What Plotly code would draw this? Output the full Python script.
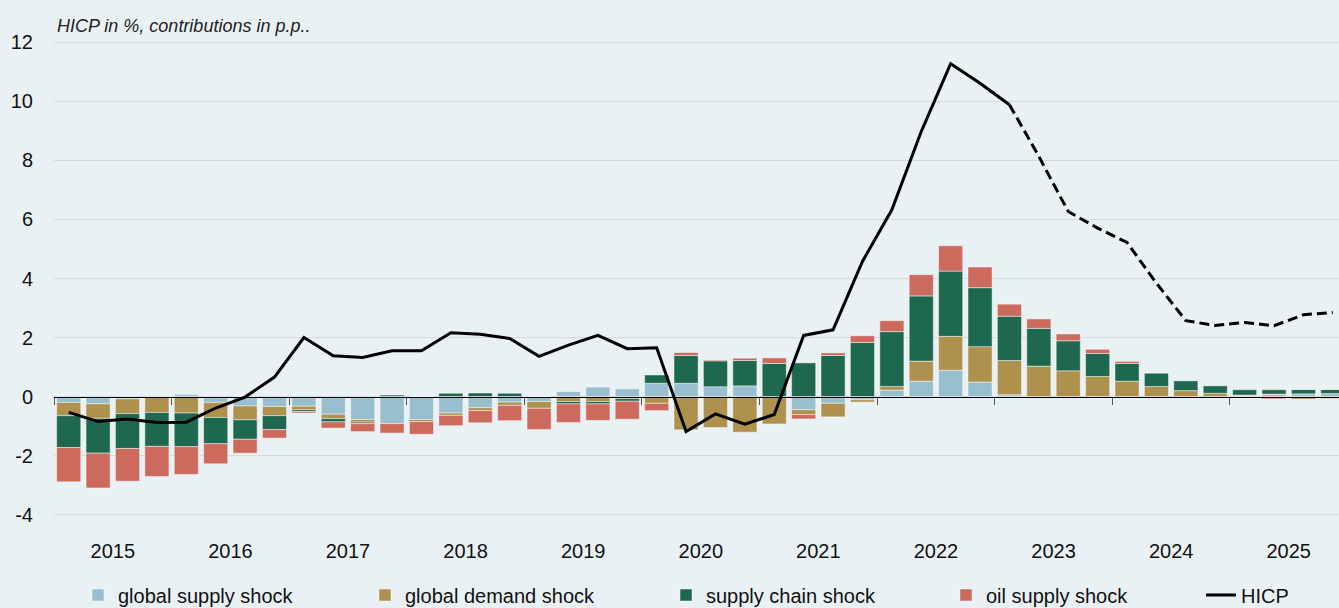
import plotly.graph_objects as go

years = list(range(2015, 2026))
quarters = [f"{y}Q{q}" for y in years for q in range(1, 5)]

global_supply = [-0.20, -0.25, -0.08, -0.01, 0.07, -0.20, -0.32, -0.34,
                 -0.33, -0.60, -0.78, -0.92, -0.78, -0.56, -0.38, -0.19,
                 -0.17, 0.17, 0.32, 0.26, 0.45, 0.45, 0.33, 0.36,
                 0.00, -0.45, -0.23, -0.11, 0.22, 0.52, 0.89, 0.49,
                 0.06, -0.01, -0.03, -0.05, -0.05, -0.03, 0.00, 0.00,
                 0.03, 0.08, 0.09, 0.10]
global_demand = [-0.45, -0.49, -0.50, -0.53, -0.56, -0.51, -0.47, -0.31,
                 -0.12, -0.15, -0.09, 0.00, -0.07, -0.08, -0.10, -0.11,
                 -0.23, -0.17, -0.17, -0.07, -0.23, -1.13, -1.05, -1.21,
                 -0.93, -0.16, -0.46, -0.08, 0.12, 0.68, 1.15, 1.20,
                 1.16, 1.03, 0.87, 0.68, 0.52, 0.34, 0.20, 0.11,
                 0.02, 0.00, -0.09, -0.07]
supply_chain = [-1.08, -1.18, -1.18, -1.15, -1.14, -0.89, -0.66, -0.47,
                -0.06, -0.11, -0.05, 0.05, 0.00, 0.11, 0.12, 0.11,
                0.00, -0.08, -0.08, -0.09, 0.28, 0.94, 0.88, 0.86,
                1.12, 1.14, 1.39, 1.83, 1.86, 2.21, 2.21, 2.00,
                1.50, 1.28, 1.02, 0.78, 0.60, 0.46, 0.33, 0.25,
                0.18, 0.15, 0.15, 0.14]
oil_supply = [-1.16, -1.18, -1.11, -1.02, -0.94, -0.68, -0.47, -0.29,
              -0.05, -0.21, -0.27, -0.32, -0.43, -0.35, -0.41, -0.52,
              -0.72, -0.63, -0.56, -0.61, -0.25, 0.10, 0.03, 0.08,
              0.19, -0.15, 0.09, 0.23, 0.37, 0.72, 0.86, 0.70,
              0.41, 0.32, 0.23, 0.14, 0.07, 0.00, -0.03, -0.03,
              -0.02, -0.08, 0.00, 0.00]
hicp = [-0.54, -0.85, -0.76, -0.88, -0.87, -0.39, -0.02, 0.66,
        2.00, 1.38, 1.32, 1.55, 1.55, 2.16, 2.11, 1.97,
        1.36, 1.74, 2.07, 1.62, 1.65, -1.19, -0.59, -0.94,
        -0.61, 2.07, 2.26, 4.58, 6.33, 8.98, 11.28, 10.62,
        9.89, 8.14, 6.27, 5.71, 5.22, 3.84, 2.57, 2.41,
        2.51, 2.40, 2.77, 2.85]
projection_start = "2023Q1"
y_ticks = [-4, -2, 0, 2, 4, 6, 8, 10, 12]
y_tick_labels = ["-4", "-2", "0", "2", "4", "6", "8", "10", "12"]

series = [
    ("global supply shock", global_supply, "#98bfcf", "legend"),
    ("global demand shock", global_demand, "#af914e", "legend2"),
    ("supply chain shock", supply_chain, "#1f6850", "legend3"),
    ("oil supply shock", oil_supply, "#cd6a5e", "legend4"),
]

x = list(range(len(quarters)))
split = quarters.index(projection_start)

fig = go.Figure()
for name, vals, color, lg in series:
    fig.add_trace(go.Bar(
        x=x, y=vals, name=name, marker_color=color,
        marker_line=dict(color="rgba(255,255,255,0.45)", width=1),
        legend=lg, hovertext=quarters,
    ))

hicp_actual = [v if i <= split else None for i, v in enumerate(hicp)]
hicp_proj = [v if i >= split else None for i, v in enumerate(hicp)]
fig.add_trace(go.Scatter(x=x, y=hicp_actual, mode="lines", name="HICP",
                         line=dict(color="black", width=3), legend="legend5"))
fig.add_trace(go.Scatter(x=x, y=hicp_proj, mode="lines", name="HICP projection",
                         line=dict(color="black", width=3, dash="10px,5px"),
                         showlegend=False))

ymin, ymax = -4.05, 12.05
xmin, xmax = -0.5, 43.21
font_family = "Liberation Sans, Arial, sans-serif"

year_centers = [4 * i + 1.5 for i in range(len(years))]
boundaries = [4 * i - 0.5 for i in range(len(years) + 1)]

W, H = 1339, 608
ml, mr, mt, mb = 54, 0, 41, 92
pw = W - ml - mr
ph = H - mt - mb


def px_to_paper_x(px):
    return (px - ml) / pw


def py_to_paper_y(py):
    return (H - mb - py) / ph


legend_common = dict(orientation="h", bgcolor="rgba(0,0,0,0)", borderwidth=0,
                      font=dict(family=font_family, size=20, color="#111"),
                      yanchor="middle", xanchor="left")
text_starts = [118, 405, 706, 986, 1241]
layout_legends = {}
for i, tx in enumerate(text_starts):
    key = "legend" if i == 0 else f"legend{i + 1}"
    layout_legends[key] = dict(legend_common, x=px_to_paper_x(tx - 40),
                               y=py_to_paper_y(595))

fig.update_layout(
    width=W, height=H,
    margin=dict(l=ml, r=mr, t=mt, b=mb, autoexpand=False),
    barmode="relative",
    bargap=0.18,
    paper_bgcolor="#e9f1f5",
    plot_bgcolor="#e9f1f5",
    font=dict(family=font_family, size=20, color="#111"),
    showlegend=True,
    xaxis=dict(range=[xmin, xmax], tickvals=year_centers,
               ticktext=[str(y) for y in years], showgrid=False, zeroline=False,
               showline=False, ticks="", ticklabelstandoff=21,
               tickfont=dict(size=20)),
    xaxis2=dict(range=[xmin, xmax], overlaying="x", anchor="free",
                position=(0 - ymin) / (ymax - ymin), side="bottom",
                showline=True, linecolor="black", linewidth=1.3,
                ticks="outside", ticklen=7, tickcolor="#555", tickwidth=1.3,
                tickvals=boundaries, showticklabels=False, showgrid=False,
                zeroline=False),
    yaxis=dict(range=[ymin, ymax], tickvals=y_ticks, ticktext=y_tick_labels,
               showgrid=True, gridcolor="#d5dbdf", gridwidth=1.3,
               zeroline=False, showline=False, ticks="",
               ticklabelstandoff=20, tickfont=dict(size=20)),
    annotations=[dict(text="<i>HICP in %, contributions in p.p..</i>",
                      xref="paper", yref="paper", x=px_to_paper_x(55),
                      y=py_to_paper_y(26), xanchor="left", yanchor="middle",
                      showarrow=False,
                      font=dict(family=font_family, size=18, color="#222"))],
    **layout_legends,
)
# invisible helper trace so the zero-line axis (ticks at year boundaries) renders
fig.add_trace(go.Scatter(x=[None], y=[None], xaxis="x2", showlegend=False,
                         hoverinfo="skip"))

fig.write_html("out.html", config={"displayModeBar": False},
               post_script="document.body.style.margin='0';")
